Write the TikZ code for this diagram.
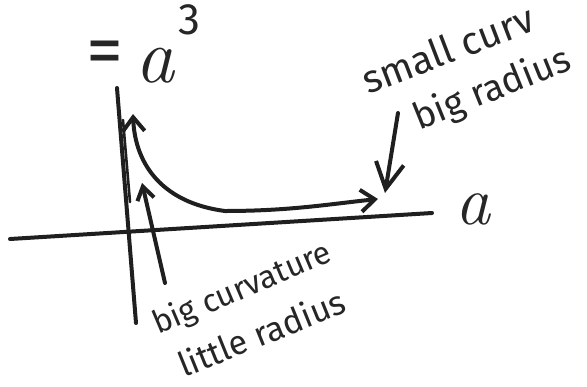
\documentclass[tikz,border=0pt]{standalone}
\usepackage{fontspec}
\setmainfont{Fira Sans}
\newfontfamily\lmfont{Latin Modern Roman}
\usetikzlibrary{arrows.meta}
\begin{document}
\begin{tikzpicture}[x=1pt,y=-1pt,
  ink/.style={line width=4pt, line cap=round, line join=round, draw=black!88},
  smallbarb/.style={-{Straight Barb[length=13pt,width=17pt]}},
  longbarb/.style={-{Straight Barb[length=26pt,width=28pt]}},
  dblbarb/.style={{Straight Barb[length=14pt,width=22pt]}-{Straight Barb[length=14pt,width=22pt]}},
  lbl/.style={inner sep=0pt, text=black!85},
  mathlbl/.style={font=\fontsize{78}{80}\selectfont\lmfont\itshape, inner sep=0pt, text=black!85}
]
\useasboundingbox (0,0) rectangle (587,386);

% axes
\coordinate (hL) at (10,239);
\coordinate (hR) at (432,213);
\coordinate (vT) at (117,88);
\coordinate (vB) at (136,323);
\draw[ink] (hL) -- (hR);
\draw[ink] (vT) -- (vB);

% curve
\coordinate (cTop) at (133,114);
\coordinate (cBot) at (225,211);
\coordinate (cEnd) at (378,199);
\draw[ink, dblbarb] (cTop) .. controls (135,165) and (163,203) .. (cBot)
  .. controls (290,211) and (330,204) .. (cEnd);
\coordinate (dT) at (123,120);
\coordinate (dB) at (130,202);
\draw[ink, line width=2.6pt] (dT) -- (dB);

% pointers
\coordinate (p1s) at (165,283);
\coordinate (p1e) at (142,183);
\draw[ink, smallbarb] (p1s) -- (p1e);
\coordinate (p2s) at (398,113);
\coordinate (p2e) at (385,193);
\draw[ink, longbarb] (p2s) -- (p2e);

% equation
\node[lbl, font=\fontsize{74}{76}\selectfont] (eq) at (105,58) {=};
\node[mathlbl, anchor=base] (aa) at (155,82) {a};
\node[lbl, font=\fontsize{44}{46}\selectfont] (three) at (189,20) {3};

% axis label
\node[lbl, anchor=base, font=\fontsize{70}{72}\selectfont\lmfont\itshape] (ax) at (473,224) {a};

% annotations
\node[lbl, font=\fontsize{32}{34}\selectfont, rotate=23, anchor=base west] (bc) at (158,335) {big curvature};
\node[lbl, font=\fontsize{34}{36}\selectfont, rotate=22, anchor=base west] (lr) at (184,378) {little radius};
\node[lbl, font=\fontsize{39}{41}\selectfont, rotate=21, anchor=base west] (sc) at (368,95) {small curv};
\node[lbl, font=\fontsize{37}{39}\selectfont, rotate=22, anchor=base west] (br) at (419,131) {big radius};
\end{tikzpicture}
\end{document}
